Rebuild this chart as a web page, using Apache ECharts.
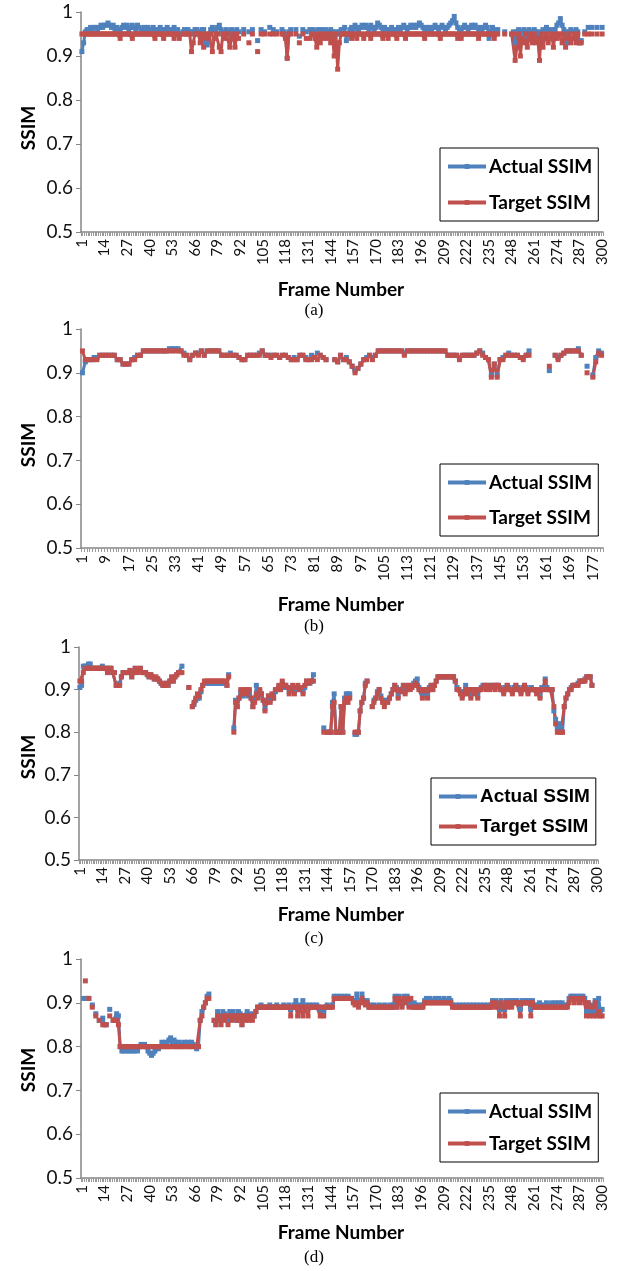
<!DOCTYPE html>
<html><head><meta charset="utf-8">
<script src="https://cdn.jsdelivr.net/npm/echarts@6/dist/echarts.min.js"></script>
<style>html,body{margin:0;padding:0;background:#fff}#c{width:629px;height:1271px}</style>
</head><body><div id="c"></div>
<script>
// ---------- Panel (a) ----------
const actualA = [.91,.93,.955,.96,.96,.965,.96,.965,.965,.96,
.965,.97,.965,.97,.97,.975,.97,.965,.97,.96,
.965,.96,.955,.965,.97,.965,.97,.96,.965,.97,
.965,.96,.97,.965,.96,.955,.965,.96,.965,.96,
.955,.965,.96,.955,.96,.965,.96,.955,.96,.965,
.96,.955,.96,.965,.955,.96,.95,null,.955,.96,
.955,.96,.955,.95,.955,.96,.96,.955,.95,.96,
.96,.93,.925,.95,.96,.965,.96,.955,.965,.97,
.96,.95,.955,.96,.955,.95,.96,.95,.955,.96,
.955,null,null,.96,null,null,.955,null,.96,null,
null,.935,null,.96,null,.955,null,null,.965,null,
.96,null,.955,null,null,.96,.955,.95,.895,.955,
.96,null,null,.96,null,.945,null,.96,null,.955,
null,.96,.955,.96,.95,.955,.96,.955,.96,.955,
.96,.955,.95,.96,.955,.95,.955,.95,.955,.96,
.96,.965,.935,.95,.96,.965,.96,.97,.965,.96,
.965,.97,.965,.97,.965,.96,.97,.965,.96,.965,
.975,.97,.965,.96,.965,.96,.955,.96,.965,.96,
.955,.96,.965,.96,.965,.97,.965,.96,.965,.97,
.965,.97,.965,.97,.975,.97,.965,.96,.965,.96,
.965,.96,.965,.97,.965,.96,.965,.97,.965,.96,
.965,.97,.975,.98,.99,.975,.965,.96,.955,.965,
.97,.965,.96,.965,.97,.965,.97,.965,.96,.965,
.96,.965,.97,.965,.94,.955,.965,.96,.955,.96,
null,null,null,.955,null,null,null,.95,.955,.93,
.955,.96,.95,.955,.96,.945,.955,.96,.95,.955,
.96,.955,.95,.955,.95,.96,.955,.965,.96,.955,
.96,.955,.96,.97,.975,.985,.97,.96,.955,.93,
.955,.96,.955,.95,.96,.955,.93,.935,null,.955,
null,.965,null,.965,null,null,.965,null,null,.965];
const targetA = [.95,.95,.95,.95,.95,.95,.95,.95,.95,.95,
.95,.95,.95,.95,.95,.95,.95,.95,.95,.95,
.95,.95,.94,.95,.95,.95,.95,.95,.95,.94,
.95,.95,.95,.95,.95,.95,.95,.95,.95,.95,
.95,.95,.94,.95,.95,.95,.95,.94,.95,.95,
.95,.95,.95,.94,.95,.95,.94,null,.95,.95,
.95,.95,.95,.91,.93,.95,.95,.95,.93,.95,
.92,.95,.94,.95,.95,.91,.94,.95,.95,.92,
.91,.95,.94,.95,.95,.92,.94,.95,.92,.95,
.94,null,null,.95,null,null,.93,null,.95,null,
null,.91,null,.95,null,.95,null,null,.95,null,
.95,null,.95,null,null,.95,.95,.94,.895,.95,
.95,null,null,.95,null,.93,null,.95,null,.94,
null,.94,.95,.95,.94,.92,.95,.93,.95,.94,
.95,.94,.95,.93,.95,.90,.95,.87,.93,.95,
.95,.95,.95,.95,.95,.94,.95,.95,.94,.95,
.95,.95,.94,.95,.95,.95,.94,.95,.95,.95,
.95,.95,.95,.94,.95,.95,.94,.95,.95,.95,
.95,.94,.95,.95,.95,.95,.94,.95,.95,.95,
.95,.95,.95,.95,.95,.95,.95,.94,.95,.95,
.95,.95,.95,.95,.95,.95,.94,.95,.95,.95,
.95,.95,.95,.95,.95,.95,.94,.95,.94,.95,
.95,.95,.95,.95,.95,.95,.95,.95,.94,.95,
.95,.95,.95,.95,.95,.95,.95,.94,.95,.95,
null,null,null,.95,null,null,null,.95,.95,.89,
.92,.95,.90,.94,.93,.95,.92,.94,.95,.93,
.95,.93,.94,.89,.95,.92,.94,.95,.93,.94,
.95,.92,.95,.94,.95,.95,.93,.95,.92,.94,
.95,.93,.94,.95,.93,.95,.93,.93,null,.95,
null,.95,null,.95,null,null,.95,null,null,.95];

// ---------- Panel (b) ----------
const actualB = [.90,.925,.93,.93,.935,.935,.94,.94,.94,.94,
.94,.94,.93,.93,.92,.92,.92,.93,.935,.94,
.94,.95,.95,.95,.95,.95,.95,.95,.95,.95,
.955,.955,.955,.955,.95,.945,.94,.93,.94,.945,
.945,.95,.94,.95,.95,.95,.95,.95,.94,.94,
.94,.945,.94,.94,.935,.93,.93,.94,.94,.94,
.94,.945,.95,.94,.94,.94,.94,.94,.935,.94,
.94,.935,.93,.935,.93,.94,.94,.935,.93,.94,
.935,.945,.94,.935,.93,null,null,.93,.925,.94,
.93,.935,.925,.915,.905,.91,.92,.93,.935,.94,
.935,.94,.95,.95,.95,.95,.95,.95,.95,.95,
.95,.945,.95,.95,.95,.95,.95,.95,.95,.95,
.95,.95,.95,.95,.95,.95,.94,.94,.94,.94,
.935,.94,.94,.94,.94,.94,.945,.95,.945,.935,
.93,.895,.92,.895,.93,.935,.94,.945,.94,.94,
.94,.935,.935,.94,.95,null,null,null,null,null,
null,.905,null,.94,.935,.94,.945,.95,.95,.95,
.95,.955,.94,null,.915,null,.895,.935,.95,.945];
const targetB = [.95,.93,.93,.93,.93,.93,.94,.94,.94,.94,
.94,.94,.93,.93,.92,.92,.92,.93,.93,.94,
.94,.95,.95,.95,.95,.95,.95,.95,.95,.95,
.95,.95,.95,.95,.95,.94,.94,.93,.94,.945,
.94,.95,.94,.95,.95,.95,.95,.95,.94,.94,
.94,.94,.94,.94,.935,.93,.93,.94,.94,.94,
.94,.94,.95,.94,.94,.935,.94,.94,.935,.94,
.94,.935,.93,.93,.93,.94,.94,.93,.93,.93,
.935,.93,.94,.935,.93,null,null,.93,.925,.94,
.93,.93,.925,.915,.90,.91,.92,.93,.93,.94,
.93,.94,.95,.95,.95,.95,.95,.95,.95,.95,
.95,.94,.95,.95,.95,.95,.95,.95,.95,.95,
.95,.95,.95,.95,.95,.95,.94,.94,.94,.94,
.93,.94,.94,.94,.94,.94,.945,.95,.94,.935,
.93,.89,.92,.89,.93,.93,.94,.94,.94,.94,
.94,.935,.93,.94,.94,null,null,null,null,null,
null,.915,null,.94,.93,.94,.945,.95,.95,.95,
.95,.95,.94,null,.90,null,.89,.925,.945,.94];

// ---------- Panel (c) ----------
const actualC = [.905,.91,.955,.955,.955,.96,.96,.95,.95,.95,
.95,.95,.95,.955,.95,.95,.94,.95,.95,.94,
.94,.91,.91,.915,.93,.94,.94,.94,.94,.945,
.93,.94,.95,.94,.945,.95,.94,.94,.94,.935,
.93,.935,.93,.925,.925,.925,.92,.915,.91,.91,
.915,.91,.92,.925,.92,.93,.935,.94,.94,.955,
null,null,null,.905,null,.86,.865,.875,.88,.88,
.895,.91,.915,.915,.915,.915,.915,.915,.915,.915,
.915,.915,.915,.915,.915,.91,.935,null,null,.81,
.875,.86,.88,.895,.885,.89,.895,.885,.89,.88,
.86,.875,.91,.885,.895,.89,.875,.855,.87,.885,
.875,.885,.88,.895,.9,.905,.9,.915,.905,.91,
.905,.895,.9,.905,.895,.9,.905,.9,.9,.895,
.905,.92,.915,.915,.92,.935,null,null,null,null,
null,.81,null,.80,.80,.80,.87,.89,.80,.80,
.80,.86,.80,.88,.89,.89,.89,null,null,.795,
.795,.80,.85,.87,.88,.915,.92,null,null,.86,
.875,.88,.895,.90,.885,.875,.87,.875,.875,.88,
.89,.90,.91,.905,.885,.90,.90,.91,.895,.90,
.91,.905,.91,.915,.92,.925,.905,.90,.885,.90,
.90,.885,.905,.91,.90,.91,.92,.93,.93,.93,
.93,.93,.93,.93,.93,.93,.93,.92,.905,.90,
.895,.885,.895,.91,.895,.90,.885,.90,.895,.90,
.885,.90,.905,.91,.91,.905,.91,.905,.91,.91,
.905,.91,.91,.905,.90,.895,.905,.91,.905,.90,
.895,.905,.91,.905,.90,.895,.905,.91,.905,.895,
.90,.905,.90,.90,.895,.90,.885,.905,.90,.925,
.905,.90,.90,.90,.85,.83,.81,.82,.81,.80,
.86,.88,.89,.90,.905,.91,.91,.91,.915,.92,
.92,.92,.925,.93,.93,.93,.91,null,null,null];
const targetC = [.92,.92,.94,.95,.95,.95,.95,.95,.95,.95,
.95,.95,.95,.95,.95,.95,.94,.95,.95,.94,
.94,.91,.91,.91,.93,.94,.94,.94,.94,.945,
.93,.94,.95,.94,.945,.95,.94,.94,.94,.935,
.93,.935,.93,.925,.93,.925,.92,.915,.91,.91,
.915,.91,.92,.93,.92,.93,.935,.94,.94,.94,
null,null,null,.905,null,.86,.87,.88,.89,.885,
.90,.91,.92,.92,.92,.92,.92,.92,.92,.92,
.92,.92,.92,.92,.92,.91,.93,null,null,.80,
.87,.86,.88,.90,.89,.90,.90,.89,.90,.88,
.86,.87,.89,.88,.90,.89,.875,.85,.87,.885,
.87,.89,.88,.90,.90,.91,.90,.92,.91,.91,
.905,.89,.90,.91,.89,.905,.91,.90,.905,.89,
.91,.92,.915,.92,.92,.92,null,null,null,null,
null,.80,null,.80,.80,.80,.86,.87,.80,.80,
.80,.86,.80,.87,.88,.87,.88,null,null,.80,
.80,.80,.85,.87,.88,.91,.92,null,null,.86,
.87,.88,.89,.90,.88,.87,.86,.87,.87,.88,
.89,.90,.91,.90,.88,.90,.895,.91,.89,.90,
.91,.90,.905,.91,.915,.91,.90,.90,.88,.90,
.90,.88,.90,.91,.90,.91,.92,.93,.93,.93,
.93,.93,.93,.93,.93,.93,.93,.92,.90,.90,
.89,.88,.89,.90,.89,.90,.88,.90,.89,.90,
.88,.90,.90,.905,.91,.90,.91,.90,.905,.91,
.90,.91,.91,.90,.90,.89,.90,.91,.90,.90,
.89,.90,.91,.90,.90,.89,.90,.91,.90,.89,
.90,.90,.90,.90,.89,.90,.88,.90,.90,.92,
.90,.90,.90,.90,.86,.82,.80,.80,.80,.80,
.86,.88,.89,.90,.90,.91,.91,.91,.91,.92,
.92,.92,.92,.93,.93,.93,.91,null,null,null];

// ---------- Panel (d) ----------
const actualD = [null,.91,.91,null,.91,null,.895,null,.875,null,
.86,null,.865,.85,.85,null,.885,null,.86,.86,
.875,.87,.80,.79,.79,.795,.79,.79,.795,.79,
.79,.795,.79,.80,.805,.80,.805,.80,.79,.785,
.78,.785,.79,.80,.795,.80,.81,.805,.81,.80,
.815,.82,.81,.815,.81,.80,.81,.805,.80,.81,
.805,.81,.80,.81,.805,.80,.795,.80,.86,.88,
.89,.90,.915,.92,null,null,.86,.85,.88,.87,
.86,.88,.875,.87,.86,.88,.875,.88,.87,.86,
.88,.875,.85,.87,.87,.88,.87,.875,.87,.87,
.88,.89,.89,.895,.89,.89,.89,.89,.895,.89,
.89,.89,.895,.89,.89,.89,.895,.89,.89,.895,
.885,.89,.895,.905,.89,.895,.89,.905,.89,.895,
.89,.895,.89,.895,.89,.895,.89,.885,.89,.88,
.89,.895,.89,.89,.895,.915,.91,.915,.91,.915,
.91,.915,.91,.915,.91,.91,.905,.90,.92,.90,
.905,.92,.905,.90,.905,.89,.895,.89,.895,.89,
.89,.895,.89,.89,.895,.89,.89,.895,.89,.895,
.915,.89,.915,.905,.895,.915,.905,.915,.895,.91,
.895,.90,.895,.89,.895,.89,.895,.905,.91,.905,
.91,.905,.905,.91,.905,.91,.905,.905,.91,.905,
.905,.91,.905,.895,.89,.895,.89,.895,.89,.895,
.89,.895,.89,.895,.89,.895,.89,.895,.89,.895,
.89,.895,.89,.895,.89,.895,.905,.895,.905,.90,
.885,.905,.895,.885,.905,.895,.905,.895,.905,.905,
.905,.90,.885,.905,.90,.905,.90,.905,.885,.905,
.895,.89,.895,.90,.895,.89,.895,.90,.895,.89,
.90,.895,.90,.89,.90,.895,.90,.895,.89,.895,
.91,.915,.915,.91,.915,.915,.91,.915,.915,.91,
.88,.90,.88,.895,.88,.905,.88,.91,.88,.885];
const targetD = [null,null,.95,null,.91,null,.89,null,.87,null,
.86,null,.85,.85,.85,null,.87,null,.86,.86,
.86,.85,.80,.80,.80,.80,.80,.80,.80,.80,
.80,.80,.80,.80,.80,.80,.80,.80,.80,.80,
.80,.80,.80,.80,.80,.80,.80,.80,.80,.80,
.80,.80,.80,.80,.80,.80,.80,.80,.80,.80,
.80,.80,.80,.80,.80,.80,.80,.80,.86,.87,
.89,.90,.91,.91,null,null,.86,.85,.87,.86,
.85,.87,.86,.87,.85,.87,.86,.87,.87,.86,
.87,.87,.85,.87,.86,.87,.86,.87,.86,.87,
.88,.89,.89,.89,.89,.89,.89,.89,.89,.89,
.89,.89,.89,.89,.89,.89,.89,.89,.89,.89,
.87,.89,.89,.89,.87,.89,.89,.87,.89,.89,
.87,.89,.89,.89,.89,.89,.89,.87,.89,.87,
.89,.89,.89,.89,.89,.91,.91,.91,.91,.91,
.91,.91,.91,.91,.91,.91,.90,.895,.90,.89,
.90,.91,.90,.895,.90,.89,.89,.89,.89,.89,
.89,.89,.89,.89,.89,.89,.89,.89,.89,.89,
.91,.89,.91,.90,.89,.91,.90,.91,.89,.91,
.89,.89,.89,.89,.89,.89,.89,.90,.90,.90,
.90,.90,.90,.90,.90,.90,.90,.90,.90,.90,
.90,.90,.90,.89,.89,.89,.89,.89,.89,.89,
.89,.89,.89,.89,.89,.89,.89,.89,.89,.89,
.89,.89,.89,.89,.89,.89,.90,.89,.90,.89,
.87,.90,.89,.87,.90,.89,.90,.89,.90,.90,
.90,.90,.87,.90,.90,.90,.90,.90,.87,.90,
.89,.89,.89,.89,.89,.89,.89,.89,.89,.89,
.89,.89,.89,.89,.89,.89,.89,.89,.89,.89,
.90,.91,.91,.90,.91,.91,.90,.91,.91,.90,
.87,.90,.87,.89,.87,.90,.87,.88,.87,.87];

// ---------- Category (frame number) labels ----------
const frames300 = Array.from({length: 300}, (_, i) => String(i + 1));
const frames180 = Array.from({length: 180}, (_, i) => String(i + 1));
const yTicks = [0.5, 0.6, 0.7, 0.8, 0.9, 1];
const seriesNames = ['Actual SSIM', 'Target SSIM'];
const captions = ['(a)', '(b)', '(c)', '(d)'];

const BLUE = '#4F81BD', RED = '#C0504D', AXIS = '#868686';
const SANS = 'Lato, "Liberation Sans", sans-serif';

const panels = [
  {act: actualA, tgt: targetA, cats: frames300, li: 12, g: {left: 81, top: 12, width: 522, height: 220},
   lg: {left: 440, top: 148, gap: 17, font: SANS, size: 19}, titleY: 290, capY: 311, ssimY: 128},
  {act: actualB, tgt: targetB, cats: frames180, li: 7, g: {left: 81, top: 329, width: 522, height: 219},
   lg: {left: 440, top: 464, gap: 16, font: SANS, size: 19}, titleY: 605, capY: 627, ssimY: 445},
  {act: actualC, tgt: targetC, cats: frames300, li: 12, g: {left: 79, top: 647, width: 519, height: 213},
   lg: {left: 431, top: 778, gap: 11, font: '"Liberation Sans", Arial, sans-serif', size: 19}, titleY: 915, capY: 939, ssimY: 757},
  {act: actualD, tgt: targetD, cats: frames300, li: 12, g: {left: 81, top: 959, width: 522, height: 219},
   lg: {left: 440, top: 1093, gap: 13, font: SANS, size: 19}, titleY: 1233, capY: 1258, ssimY: 1070}
];

const grid = [], xAxis = [], yAxis = [], series = [], legend = [], graphic = [];
panels.forEach((p, i) => {
  grid.push(Object.assign({outerBoundsMode: 'none', containLabel: false}, p.g));
  xAxis.push({
    type: 'category', gridIndex: i, data: p.cats, boundaryGap: true,
    axisLine: {show: true, lineStyle: {color: AXIS, width: 1.5}},
    axisTick: {show: true, interval: 0, length: 4, lineStyle: {color: '#9a9a9a', width: 1}},
    axisLabel: {interval: p.li, rotate: 90, fontSize: 15, fontFamily: SANS, color: '#111', margin: 7},
    splitLine: {show: false}
  });
  yAxis.push({
    type: 'value', gridIndex: i, min: yTicks[0], max: yTicks[yTicks.length - 1], interval: 0.1,
    axisLine: {show: true, lineStyle: {color: AXIS, width: 1.5}},
    axisTick: {show: true, length: 5, lineStyle: {color: AXIS, width: 1}},
    axisLabel: {fontSize: 19, fontFamily: SANS, color: '#111', margin: 8,
      formatter: v => (Math.abs(v - 1) < 1e-9 ? '1' : v.toFixed(1))},
    splitLine: {show: false}
  });
  [[p.act, BLUE, seriesNames[0]], [p.tgt, RED, seriesNames[1]]].forEach(([d, c, n]) => {
    series.push({
      type: 'line', name: n, xAxisIndex: i, yAxisIndex: i, data: d,
      symbol: 'rect', symbolSize: 5, showSymbol: true, showAllSymbol: true,
      connectNulls: false, animation: false, silent: true,
      lineStyle: {color: c, width: 3}, itemStyle: {color: c}
    });
  });
  legend.push({
    data: seriesNames, orient: 'vertical', left: p.lg.left, top: p.lg.top,
    itemWidth: 38, itemHeight: 6, itemGap: p.lg.gap, padding: [9, 6, 9, 6],
    borderColor: '#000', borderWidth: 1, backgroundColor: '#fff', selectedMode: false,
    lineStyle: {width: 4},
    textStyle: {fontFamily: p.lg.font, fontSize: p.lg.size, fontWeight: 'bold', color: '#000', padding: [0, 0, 0, -2]}
  });
  graphic.push({type: 'text', x: 341, y: p.titleY,
    style: {text: 'Frame Number', font: 'bold 19px ' + SANS, fill: '#000', textAlign: 'center', textVerticalAlign: 'middle'}});
  graphic.push({type: 'text', x: 314, y: p.capY,
    style: {text: captions[i], font: '17px "Liberation Serif", "Times New Roman", serif', fill: '#000', textAlign: 'center', textVerticalAlign: 'middle'}});
  graphic.push({type: 'text', x: 29, y: p.ssimY, rotation: Math.PI / 2,
    style: {text: 'SSIM', font: 'bold 19px ' + SANS, fill: '#000', textAlign: 'center', textVerticalAlign: 'middle'}});
});

const chart = echarts.init(document.getElementById('c'), null, {renderer: 'canvas'});
chart.setOption({backgroundColor: '#fff', animation: false, grid, xAxis, yAxis, series, legend, graphic});
</script>
</body></html>
